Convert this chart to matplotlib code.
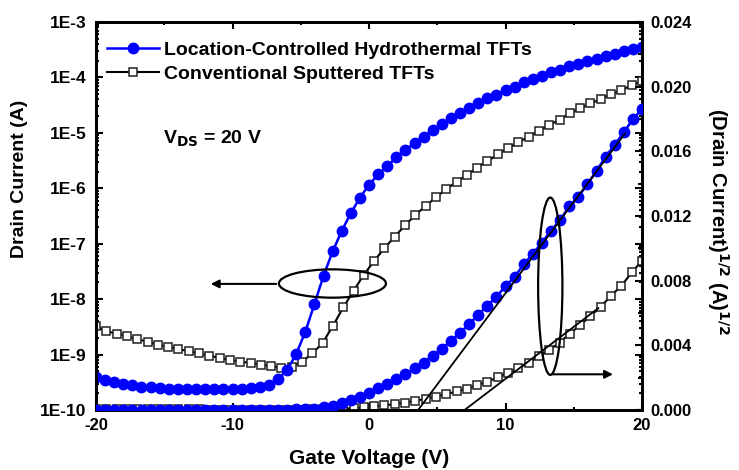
import numpy as np
import matplotlib.pyplot as plt
from matplotlib.patches import Ellipse
from matplotlib.ticker import FixedLocator, MultipleLocator, FuncFormatter, NullFormatter

plt.rcParams['font.family'] = ['Liberation Sans', 'DejaVu Sans']
plt.rcParams['font.weight'] = 'bold'
plt.rcParams['axes.labelweight'] = 'bold'
plt.rcParams['axes.unicode_minus'] = False
plt.rcParams['mathtext.default'] = 'bf'

# gate voltage sweeps (V)
vg_hydro = np.linspace(-20, 20, 61)
vg_sput = np.linspace(-20, 20, 54)

# log10 of drain current (A)
log_id_hydro = [-9.40, -9.45, -9.49, -9.53, -9.55, -9.58, -9.59, -9.61, -9.62, -9.63,
                -9.63, -9.63, -9.63, -9.63, -9.63, -9.62, -9.62, -9.61, -9.58, -9.54,
                -9.44, -9.28, -8.99, -8.59, -8.09, -7.58, -7.14, -6.77, -6.45, -6.17,
                -5.94, -5.75, -5.60, -5.44, -5.31, -5.18, -5.07, -4.95, -4.84, -4.74,
                -4.64, -4.55, -4.46, -4.38, -4.31, -4.23, -4.17, -4.09, -4.03, -3.97,
                -3.91, -3.86, -3.80, -3.76, -3.71, -3.66, -3.61, -3.57, -3.53, -3.49, -3.46]
log_id_sput = [-8.49, -8.58, -8.62, -8.67, -8.72, -8.77, -8.82, -8.86, -8.90, -8.94,
               -8.98, -9.02, -9.06, -9.10, -9.13, -9.15, -9.18, -9.21, -9.24, -9.22,
               -9.13, -8.98, -8.79, -8.48, -8.15, -7.85, -7.56, -7.31, -7.08, -6.87,
               -6.67, -6.48, -6.32, -6.16, -6.02, -5.88, -5.76, -5.63, -5.51, -5.39,
               -5.28, -5.17, -5.07, -4.96, -4.86, -4.76, -4.65, -4.56, -4.47, -4.39,
               -4.30, -4.23, -4.14, -4.07]

# linear fits on the sqrt plot (end points)
fit_hydro_vg = [3.6, 18.75]
fit_hydro_sqrt = [0.0, 0.0171]
fit_sput_vg = [7.0, 16.8]
fit_sput_sqrt = [0.0, 0.0063]

decades = [1e-10, 1e-9, 1e-8, 1e-7, 1e-6, 1e-5, 1e-4, 1e-3]
decade_labels = ['1E-10', '1E-9', '1E-8', '1E-7', '1E-6', '1E-5', '1E-4', '1E-3']

id_hydro = 10 ** np.array(log_id_hydro)
id_sput = 10 ** np.array(log_id_sput)

blue = '#0000ff'
circ = dict(color=blue, lw=1.8, ms=7.5, mec=blue, zorder=3)
sq = dict(color='black', lw=1.5, ms=6, mfc='white', mec='#222222', mew=1.1, zorder=2)

fig = plt.figure(figsize=(7.39, 4.70), dpi=100)
ax = fig.add_axes([96/739, 1-410/470, 546/739, 388/470])
ax2 = ax.twinx()

ax.semilogy(vg_hydro, id_hydro, '-o', label='Location-Controlled Hydrothermal TFTs', **circ)
ax.semilogy(vg_sput, id_sput, '-s', label='Conventional Sputtered TFTs', **sq)

ax2.plot(vg_sput, np.sqrt(id_sput), '-s', **sq)
ax2.plot(vg_hydro, np.sqrt(id_hydro), '-o', **circ)
ax2.plot(fit_hydro_vg, fit_hydro_sqrt, color='black', lw=1.3, zorder=4)
ax2.plot(fit_sput_vg, fit_sput_sqrt, color='black', lw=1.3, zorder=4)

ax.set_xlim(-20, 20)
ax.set_ylim(1e-10, 1e-3)
ax2.set_ylim(0, 0.024)

ax.xaxis.set_major_locator(MultipleLocator(10))
ax.xaxis.set_minor_locator(MultipleLocator(5))
ax.set_yticks(decades)
ax.set_yticklabels(decade_labels)
minor = [m * d for d in decades[:-1] for m in range(2, 10)]
ax.yaxis.set_minor_locator(FixedLocator(minor))
ax.yaxis.set_minor_formatter(NullFormatter())
ax2.yaxis.set_major_locator(MultipleLocator(0.004))
ax2.yaxis.set_minor_locator(MultipleLocator(0.002))
ax2.yaxis.set_major_formatter(FuncFormatter(lambda v, p: '%.3f' % v))

ax.tick_params(which='both', direction='in', top=True, right=True, labelsize=12.5, width=1.5)
ax.tick_params(which='major', length=5, pad=7)
ax.tick_params(which='minor', length=2.5)
ax.tick_params(axis='x', pad=6, labelsize=12)
ax2.tick_params(which='both', direction='in', labelsize=12, width=1.5, pad=6)
ax2.tick_params(which='major', length=5)
ax2.tick_params(which='minor', length=3)
for a in (ax, ax2):
    for s in a.spines.values():
        s.set_linewidth(2)

ax.set_xlabel('Gate Voltage (V)', fontsize=15)
ax.xaxis.set_label_coords(0.5, -0.10)
ax.set_ylabel('Drain Current (A)', fontsize=14)
ax.yaxis.set_label_coords(-0.125, 0.595)
ax2.set_ylabel(r'(Drain Current)$^{1/2}$ (A)$^{1/2}$', fontsize=14.5, rotation=270, va='bottom')
ax2.yaxis.set_label_coords(1.115, 0.487)

ax.legend(loc='upper left', bbox_to_anchor=(-0.005, 0.985), frameon=False, fontsize=14,
          handlelength=2.7, handletextpad=0.25, labelspacing=0.32, borderaxespad=0.3)

ax.text(0.123, 0.7, r'V$_{\mathbf{DS}}$ = 20 V', transform=ax.transAxes, fontsize=14,
        fontweight='bold', va='center')

# ellipses and arrows
ax2.add_patch(Ellipse((0.433, 0.326), 0.196, 0.073, transform=ax2.transAxes,
                      fill=False, lw=1.6, ec='black', zorder=5))
ax2.annotate('', xy=(0.205, 0.325), xytext=(0.335, 0.325), xycoords='axes fraction',
             arrowprops=dict(arrowstyle='-|>', lw=1.5, color='black', mutation_scale=12))
ax2.add_patch(Ellipse((0.832, 0.319), 0.0445, 0.457, transform=ax2.transAxes,
                      fill=False, lw=1.6, ec='black', zorder=5))
ax2.annotate('', xy=(0.952, 0.092), xytext=(0.831, 0.092), xycoords='axes fraction',
             arrowprops=dict(arrowstyle='-|>', lw=1.5, color='black', mutation_scale=12))

fig.savefig('out.png', dpi=100)
